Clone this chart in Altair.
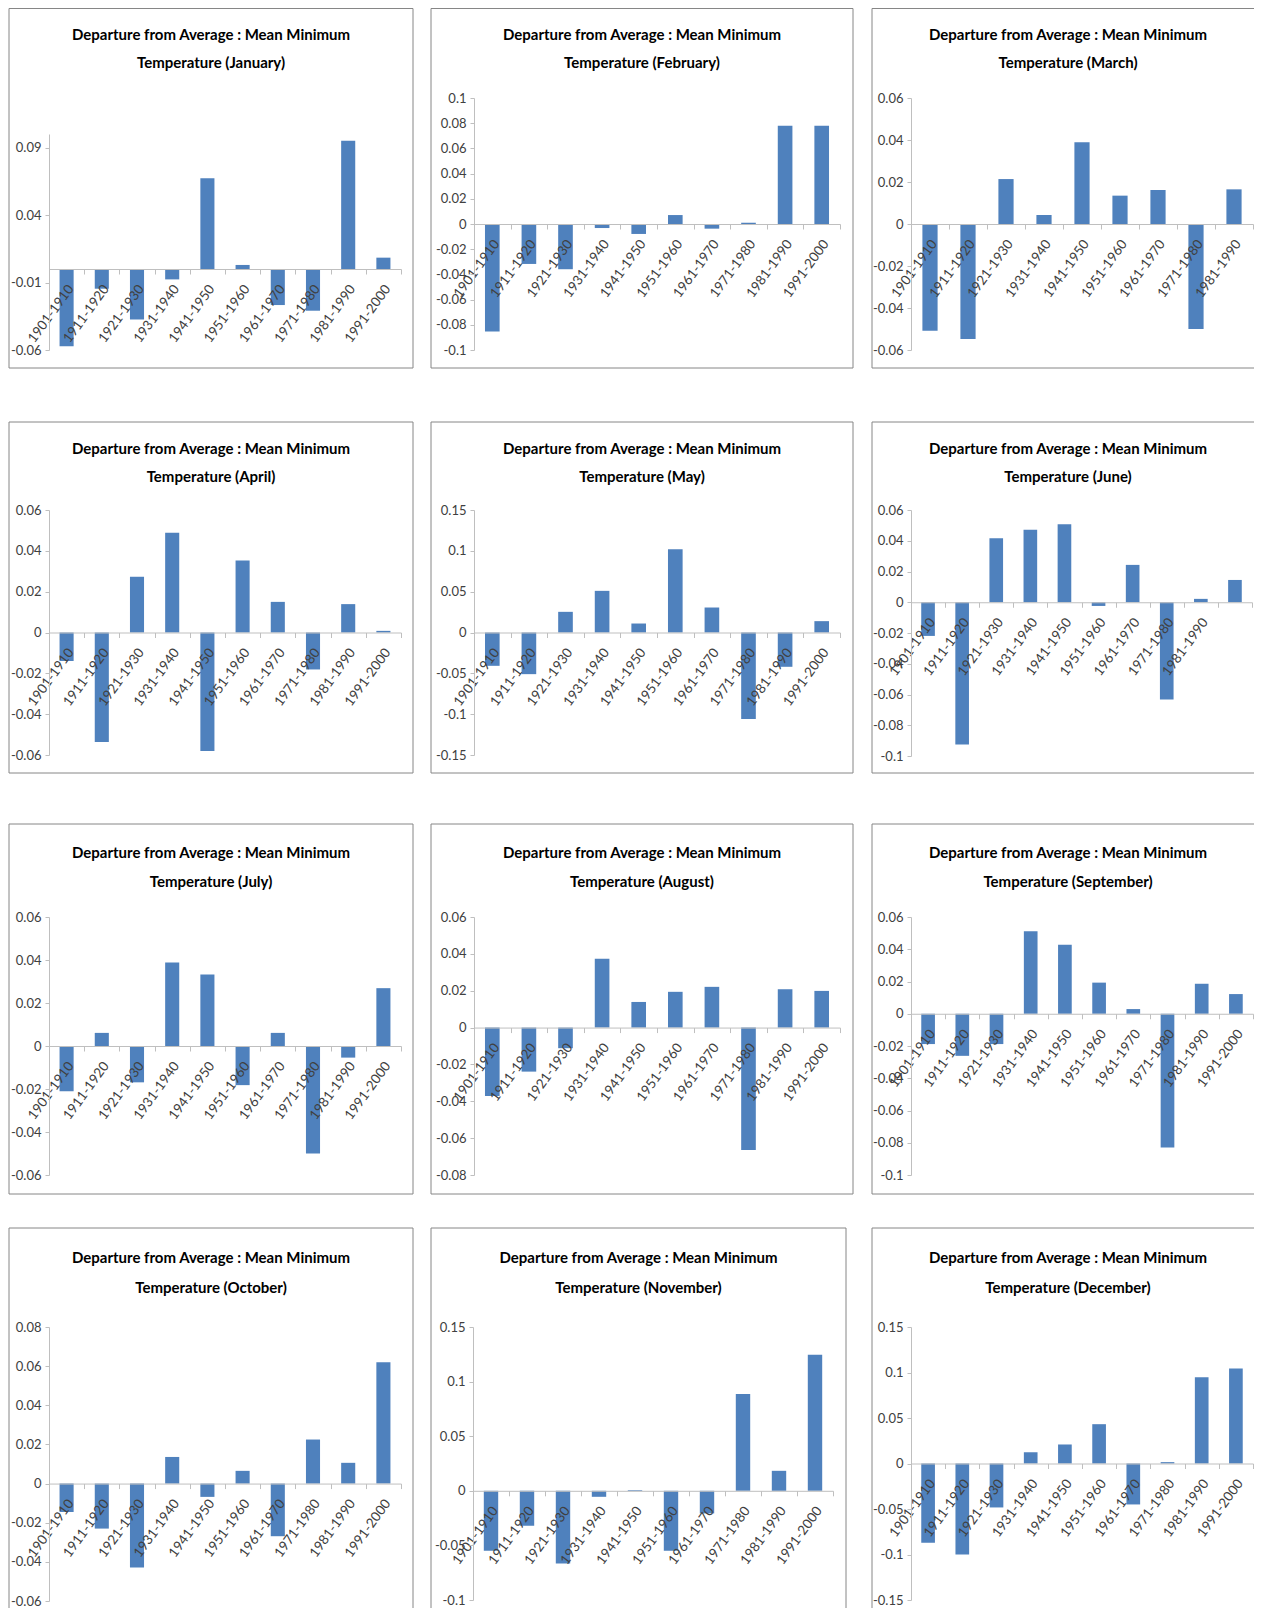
import altair as alt
import pandas as pd

categories = ["1901-1910", "1911-1920", "1921-1930", "1931-1940", "1941-1950",
              "1951-1960", "1961-1970", "1971-1980", "1981-1990", "1991-2000"]

months = ["January", "February", "March", "April", "May", "June",
          "July", "August", "September", "October", "November", "December"]

jan = [-0.0572, -0.0146, -0.0374, -0.0077, 0.0673, 0.0030, -0.0267, -0.0309, 0.0950, 0.0084]
feb = [-0.0853, -0.0317, -0.0359, -0.0032, -0.0079, 0.0071, -0.0037, 0.0010, 0.0779, 0.0779]
mar = [-0.0508, -0.0548, 0.0214, 0.0043, 0.0389, 0.0135, 0.0162, -0.0500, 0.0165]
apr = [-0.0139, -0.0536, 0.0273, 0.0488, -0.0581, 0.0353, 0.0150, -0.0181, 0.0139, 0.0008]
may = [-0.0408, -0.0510, 0.0253, 0.0510, 0.0110, 0.1020, 0.0306, -0.1060, -0.0420, 0.0139]
jun = [-0.0219, -0.0925, 0.0417, 0.0471, 0.0508, -0.0024, 0.0243, -0.0632, 0.0022, 0.0145]
jul = [-0.0210, 0.0061, -0.0169, 0.0388, 0.0332, -0.0182, 0.0061, -0.0500, -0.0054, 0.0269]
aug = [-0.0371, -0.0239, -0.0112, 0.0373, 0.0139, 0.0194, 0.0221, -0.0665, 0.0208, 0.0199]
sep = [-0.0188, -0.0261, -0.0188, 0.0511, 0.0428, 0.0193, 0.0029, -0.0830, 0.0186, 0.0122]
oct_ = [-0.0145, -0.0230, -0.0429, 0.0136, -0.0068, 0.0065, -0.0269, 0.0225, 0.0106, 0.0620]
nov = [-0.0549, -0.0320, -0.0665, -0.0055, 0.0006, -0.0549, -0.0207, 0.0887, 0.0183, 0.1247]
dec = [-0.0871, -0.0999, -0.0483, 0.0124, 0.0209, 0.0432, -0.0450, 0.0015, 0.0948, 0.1043]

series = [jan, feb, mar, apr, may, jun, jul, aug, sep, oct_, nov, dec]

# y-axis domains and tick labels per month
domains = [(-0.06, 0.10), (-0.10, 0.10), (-0.06, 0.06), (-0.06, 0.06),
           (-0.15, 0.15), (-0.10, 0.06), (-0.06, 0.06), (-0.08, 0.06),
           (-0.10, 0.06), (-0.06, 0.08), (-0.10, 0.15), (-0.15, 0.15)]
ticks = [
    [-0.06, -0.01, 0.04, 0.09],
    [-0.1, -0.08, -0.06, -0.04, -0.02, 0, 0.02, 0.04, 0.06, 0.08, 0.1],
    [-0.06, -0.04, -0.02, 0, 0.02, 0.04, 0.06],
    [-0.06, -0.04, -0.02, 0, 0.02, 0.04, 0.06],
    [-0.15, -0.1, -0.05, 0, 0.05, 0.1, 0.15],
    [-0.1, -0.08, -0.06, -0.04, -0.02, 0, 0.02, 0.04, 0.06],
    [-0.06, -0.04, -0.02, 0, 0.02, 0.04, 0.06],
    [-0.08, -0.06, -0.04, -0.02, 0, 0.02, 0.04, 0.06],
    [-0.1, -0.08, -0.06, -0.04, -0.02, 0, 0.02, 0.04, 0.06],
    [-0.06, -0.04, -0.02, 0, 0.02, 0.04, 0.06, 0.08],
    [-0.1, -0.05, 0, 0.05, 0.1, 0.15],
    [-0.15, -0.1, -0.05, 0, 0.05, 0.1, 0.15],
]

# ---- layout (page pixels; the chart itself starts at the 8px page margin) ----
ORIGIN = 8
VIEW_W, VIEW_H = 1246, 1600
# plot area: x0, y0, width, height
plots = [
    (49, 134, 352, 216), (474, 98, 366, 252), (911, 98, 342, 252),
    (49, 510, 352, 245), (474, 510, 366, 245), (911, 510, 341, 246),
    (49, 917, 352, 258), (474, 917, 366, 258), (911, 917, 342, 258),
    (49, 1327, 352, 274), (473, 1327, 360, 273), (911, 1327, 342, 273),
]
# chart borders (right column and bottom row run past the page edge)
frames = [
    (9, 8.5, 413, 368), (431, 8.5, 853, 368), (872, 8.5, 1264, 368),
    (9, 422, 413, 773), (431, 422, 853, 773), (872, 422, 1264, 773),
    (9, 824, 413, 1194), (431, 824, 853, 1194), (872, 824, 1264, 1194),
    (9, 1228, 413, 1640), (431, 1228, 846, 1640), (872, 1228, 1264, 1640),
]
title_y = [(35, 63), (449, 477), (853, 882), (1258, 1288)]

TITLE_FONT = "Lato"
LABEL_FONT = "Lato"
BAR_COLOR = "#4F81BD"
AXIS_COLOR = "#BFBFBF"
TEXT_COLOR = "#404040"
FRAME_COLOR = "#868686"

one_row = alt.InlineData(values=[{"k": 1}])
minus_fix = "replace(format(datum.value, '.2~f'), '\u2212', '-')"


def panel(i):
    vals = series[i]
    cats = categories[:len(vals)]
    px, py, w, h = [v - ORIGIN if k < 2 else v for k, v in enumerate(plots[i])]
    fx0, fy0, fx1, fy1 = [v - ORIGIN for v in frames[i]]
    row = i // 3
    ymin, ymax = domains[i]
    zero_y = py + h * (ymax - 0) / (ymax - ymin)

    df = pd.DataFrame({"period": cats, "value": vals})

    frame = alt.Chart(one_row).mark_rect(fill="white", stroke=FRAME_COLOR, strokeWidth=1).encode(
        x=alt.value(fx0), x2=alt.value(fx1), y=alt.value(fy0), y2=alt.value(fy1))

    tcx = (fx0 + fx1) / 2
    t1 = alt.Chart(one_row).mark_text(
        text="Departure from Average : Mean Minimum", font=TITLE_FONT, fontSize=15,
        fontWeight="bold", color="#000000", align="center", baseline="middle").encode(
        x=alt.value(tcx), y=alt.value(title_y[row][0] - ORIGIN))
    t2 = alt.Chart(one_row).mark_text(
        text=f"Temperature ({months[i]})", font=TITLE_FONT, fontSize=15,
        fontWeight="bold", color="#000000", align="center", baseline="middle").encode(
        x=alt.value(tcx), y=alt.value(title_y[row][1] - ORIGIN))

    x_label_expr = "datum.label"
    if months[i] == "June":
        x_label_expr = "datum.value == '1991-2000' ? '' : datum.label"

    bars = alt.Chart(df).mark_bar(color=BAR_COLOR, width=alt.RelativeBandSize(0.4)).encode(
        x=alt.X("period:N", sort=cats,
                scale=alt.Scale(range=[px, px + w], paddingInner=0, paddingOuter=0),
                axis=alt.Axis(title=None, orient="bottom", labelAngle=-54, labelAlign="right",
                              labelBaseline="middle", tickBand="extent", tickSize=5,
                              tickColor=AXIS_COLOR, domainColor=AXIS_COLOR,
                              labelPadding=12, labelOffset=4,
                              offset=-(VIEW_H - zero_y), labelFont=LABEL_FONT,
                              labelFontSize=13.5, labelColor=TEXT_COLOR,
                              labelOverlap=False, labelExpr=x_label_expr, zindex=2)),
        y=alt.Y("value:Q",
                scale=alt.Scale(domain=[ymin, ymax], range=[py + h, py], nice=False),
                axis=alt.Axis(title=None, orient="left", values=ticks[i], grid=False,
                              tickSize=4, tickColor=AXIS_COLOR, domainColor=AXIS_COLOR,
                              offset=-px, minExtent=0,
                              labelFont=LABEL_FONT, labelFontSize=13,
                              labelColor=TEXT_COLOR, labelPadding=4,
                              labelOverlap=False, labelExpr=minus_fix, zindex=2)),
    )
    return alt.layer(frame, t1, t2, bars)


chart = alt.layer(*[panel(i) for i in range(12)]).resolve_scale(
    x="independent", y="independent"
).resolve_axis(
    x="independent", y="independent"
).properties(
    width=VIEW_W, height=VIEW_H, padding=0,
    autosize=alt.AutoSizeParams(type="none")
).configure_view(stroke=None)

chart.save("out.html", embed_options={"renderer": "svg", "actions": False})
